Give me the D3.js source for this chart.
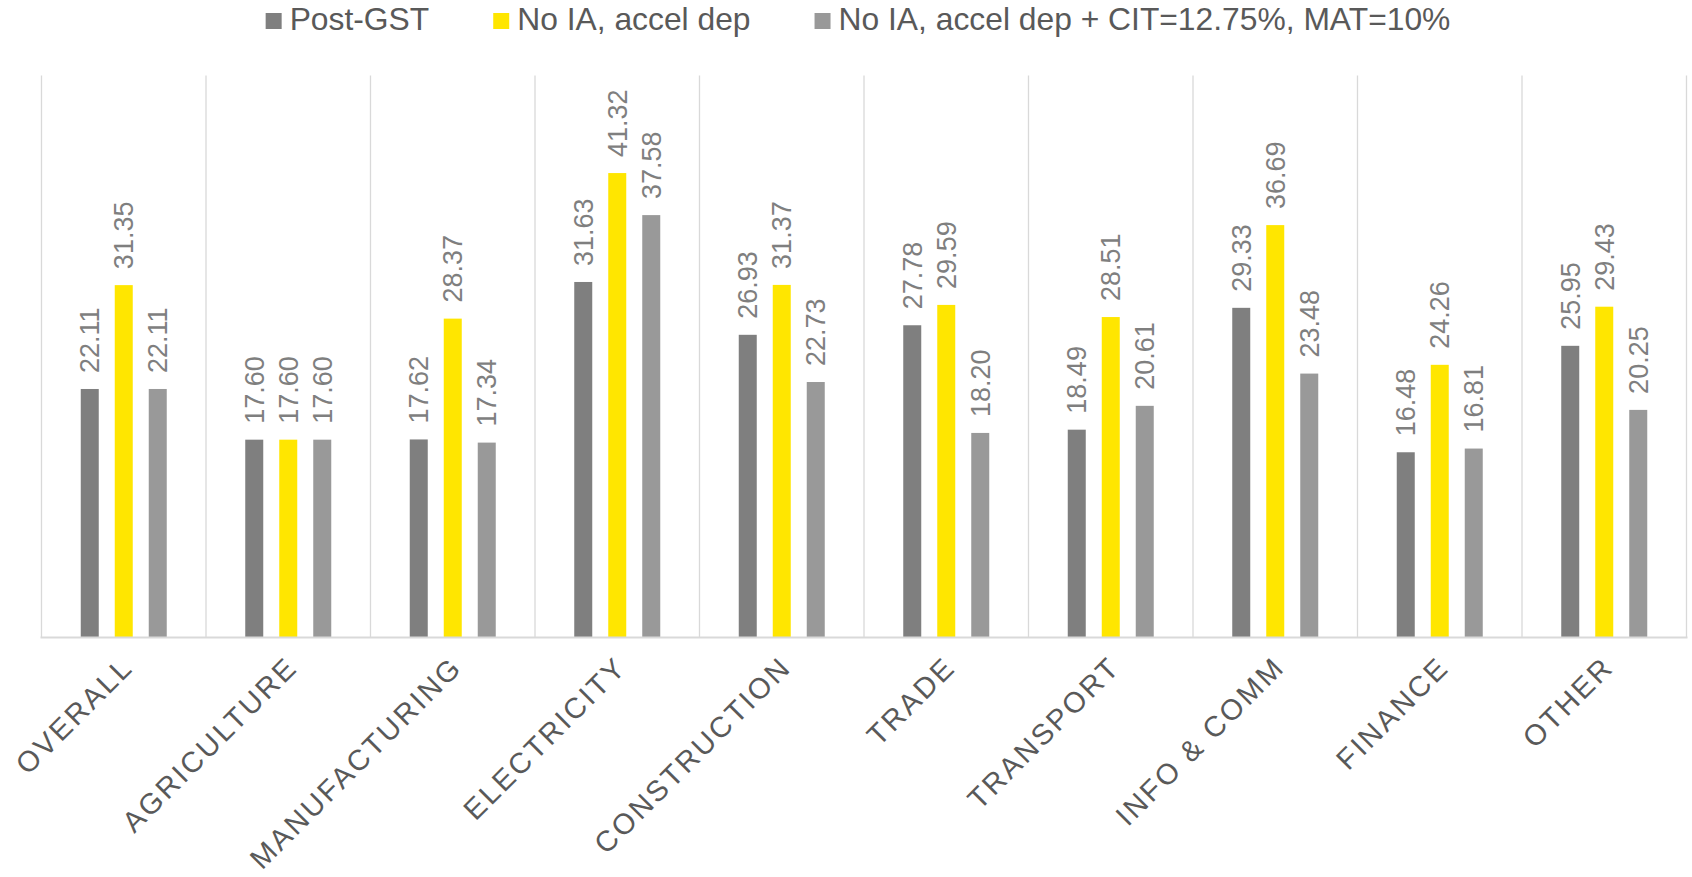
<!DOCTYPE html>
<html>
<head>
<meta charset="utf-8">
<script src="https://cdn.jsdelivr.net/npm/d3@7"></script>
<style>
  body { margin: 0; background: #fff; }
  svg { display: block; font-family: Arial, "Liberation Sans", sans-serif; }
</style>
</head>
<body>
<script>
const categories = ["OVERALL", "AGRICULTURE", "MANUFACTURING", "ELECTRICITY", "CONSTRUCTION",
  "TRADE", "TRANSPORT", "INFO & COMM", "FINANCE", "OTHER"];
const seriesNames = ["Post-GST", "No IA, accel dep", "No IA, accel dep + CIT=12.75%, MAT=10%"];
const postGst = [22.11, 17.60, 17.62, 31.63, 26.93, 27.78, 18.49, 29.33, 16.48, 25.95];
const noIa = [31.35, 17.60, 28.37, 41.32, 31.37, 29.59, 28.51, 36.69, 24.26, 29.43];
const noIaCit = [22.11, 17.60, 17.34, 37.58, 22.73, 18.20, 20.61, 23.48, 16.81, 20.25];
const colors = ["#7f7f7f", "#ffe600", "#999999"];

const W = 1692, H = 877;
const plot = { left: 41.5, right: 1686.5, top: 75.5, bottom: 637.5 };

const svg = d3.select("body").append("svg")
    .attr("width", W)
    .attr("height", H);

const x0 = d3.scaleBand()
    .domain(categories)
    .range([plot.left, plot.right])
    .padding(0);

const x1 = d3.scaleBand()
    .domain(d3.range(3))
    .range([-43, 43])
    .paddingInner(16 / 34)
    .paddingOuter(0);

const y = d3.scaleLinear()
    .domain([0, 50])
    .range([plot.bottom, plot.top]);

const allSeries = [postGst, noIa, noIaCit];
const rows = categories.map((c, i) => ({ cat: c, vals: allSeries.map(s => s[i]) }));

// vertical gridlines between categories
const bounds = categories.map(c => x0(c)).concat([plot.right]);
svg.append("g")
  .selectAll("line")
  .data(bounds)
  .join("line")
    .attr("x1", d => d).attr("x2", d => d)
    .attr("y1", plot.top).attr("y2", plot.bottom)
    .attr("stroke", "#d9d9d9")
    .attr("stroke-width", 1.3);

// bars
const groups = svg.append("g")
  .selectAll("g")
  .data(rows)
  .join("g")
    .attr("transform", d => "translate(" + (x0(d.cat) + x0.bandwidth() / 2) + ",0)");

groups.selectAll("rect")
  .data(d => d.vals.map((v, k) => ({ k, v })))
  .join("rect")
    .attr("x", d => x1(d.k))
    .attr("width", x1.bandwidth())
    .attr("y", d => y(d.v))
    .attr("height", d => y(0) - y(d.v))
    .attr("fill", d => colors[d.k]);

// data labels
groups.selectAll("text")
  .data(d => d.vals.map((v, k) => ({ k, v })))
  .join("text")
    .attr("transform", d => "translate(" + (x1(d.k) + x1.bandwidth() / 2) + "," + (y(d.v) - 16) + ") rotate(-90)")
    .attr("dy", "0.36em")
    .attr("fill", "#7f7f7f")
    .style("font-size", "27px")
    .text(d => d.v.toFixed(2));

// baseline
svg.append("line")
    .attr("x1", plot.left - 1).attr("x2", plot.right + 1)
    .attr("y1", plot.bottom).attr("y2", plot.bottom)
    .attr("stroke", "#d9d9d9")
    .attr("stroke-width", 2);

// category labels
svg.append("g")
  .selectAll("text")
  .data(categories)
  .join("text")
    .attr("transform", d => "translate(" + (x0(d) + x0.bandwidth() / 2 + 11) + ",669) rotate(-45)")
    .attr("text-anchor", "end")
    .attr("fill", "#595959")
    .style("font-size", "29px")
    .style("letter-spacing", "2.5px")
    .text(d => d);

// legend
const legend = svg.append("g");
const items = legend.selectAll("g")
  .data(seriesNames)
  .join("g");
items.append("rect")
    .attr("width", 16).attr("height", 16)
    .attr("y", 13)
    .attr("fill", (d, i) => colors[i]);
items.append("text")
    .attr("x", 24)
    .attr("y", 30)
    .attr("fill", "#595959")
    .style("font-size", "31.8px")
    .text(d => d);

let pos = 0;
items.each(function () {
  const w = 24 + d3.select(this).select("text").node().getComputedTextLength();
  d3.select(this).attr("transform", "translate(" + pos + ",0)");
  pos += w + 64;
});
const legendW = pos - 64;
legend.attr("transform", "translate(" + (858 - legendW / 2) + ",0)");
</script>
</body>
</html>
